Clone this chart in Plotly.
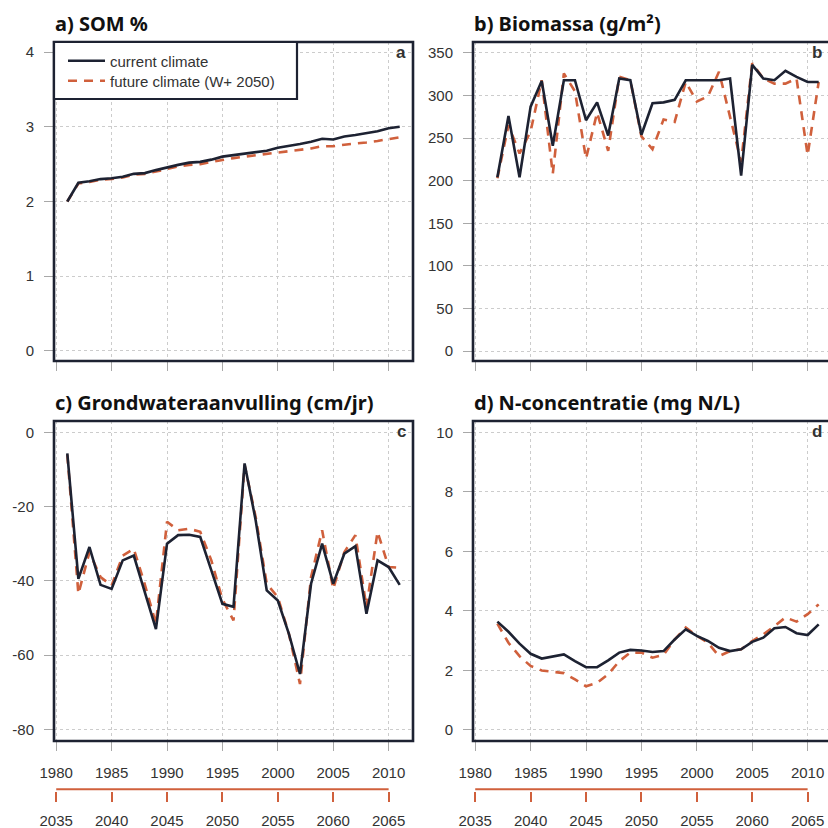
import plotly.graph_objects as go

# ---------------- data ----------------
years_ac = list(range(1981, 2012))
years_bd = list(range(1982, 2012))

som_current = [2.00, 2.25, 2.27, 2.30, 2.31, 2.33, 2.37, 2.38, 2.42, 2.46, 2.49, 2.52, 2.53, 2.56, 2.60, 2.62,
               2.64, 2.66, 2.68, 2.72, 2.75, 2.77, 2.80, 2.84, 2.83, 2.87, 2.89, 2.91, 2.94, 2.98, 3.00]
som_future = [2.00, 2.24, 2.26, 2.29, 2.30, 2.32, 2.36, 2.37, 2.40, 2.44, 2.47, 2.49, 2.50, 2.53, 2.56, 2.58,
              2.60, 2.62, 2.63, 2.65, 2.67, 2.69, 2.71, 2.74, 2.74, 2.76, 2.78, 2.79, 2.81, 2.84, 2.86]

bio_current = [204, 276, 204, 287, 317, 241, 318, 318, 271, 292, 253, 320, 318, 254, 291, 292, 295, 318, 318,
               318, 318, 320, 206, 336, 320, 318, 329, 322, 316, 316]
bio_future = [203, 265, 232, 258, 318, 208, 326, 305, 226, 280, 235, 322, 318, 252, 237, 272, 269, 316, 293,
              299, 328, 275, 222, 338, 320, 314, 314, 320, 230, 316]

gw_current = [-5.7, -39.5, -30.9, -41.1, -42.2, -34.5, -33.2, -43.0, -53.0, -30.0, -27.7, -27.6, -28.2, -37.2,
              -46.2, -47.0, -8.4, -23.7, -42.6, -45.3, -54.3, -65.1, -40.8, -30.0, -40.8, -32.7, -30.7, -48.9,
              -34.5, -36.3, -41.1]
gw_future = [-6.0, -43.5, -32.3, -39.0, -41.3, -33.2, -31.4, -41.0, -51.6, -24.1, -26.4, -26.0, -26.8, -34.5,
             -45.0, -50.7, -8.8, -22.8, -40.8, -44.4, -54.3, -67.8, -39.0, -26.4, -42.2, -32.3, -27.7, -47.1,
             -26.8, -36.3, -36.5]

n_current = [3.64, 3.30, 2.90, 2.56, 2.40, 2.47, 2.54, 2.31, 2.11, 2.11, 2.34, 2.60, 2.69, 2.67, 2.62, 2.65,
             3.04, 3.38, 3.16, 2.99, 2.76, 2.65, 2.71, 2.96, 3.10, 3.42, 3.46, 3.25, 3.19, 3.55]
n_future = [3.57, 2.93, 2.48, 2.15, 2.00, 1.96, 1.91, 1.70, 1.47, 1.58, 1.87, 2.31, 2.60, 2.60, 2.43, 2.52,
            3.04, 3.44, 3.16, 2.93, 2.48, 2.65, 2.71, 2.99, 3.21, 3.49, 3.78, 3.64, 3.89, 4.22]

x_tick_years = [1980, 1985, 1990, 1995, 2000, 2005, 2010]
future_tick_labels = ["2035", "2040", "2045", "2050", "2055", "2060", "2065"]
axis_line_years = [1980, 2010]

ytick_a = [0, 1, 2, 3, 4]
ytick_b = [0, 50, 100, 150, 200, 250, 300, 350]
ytick_c = [-80, -60, -40, -20, 0]
ytick_c_labels = ["-80", "-60", "-40", "-20", "0"]
ytick_d = [0, 2, 4, 6, 8, 10]

titles = ["a) SOM %", "b) Biomassa (g/m²)", "c) Grondwateraanvulling (cm/jr)", "d) N-concentratie (mg N/L)"]
panel_letters = ["a", "b", "c", "d"]
legend_names = ["current climate", "future climate (W+ 2050)"]

# ---------------- styling ----------------
S = 828.0
BLACK = "#1d2232"
RED = "#d0603c"
GRID = "#cccccc"
TXT = "#333333"
TICKF = dict(family="Liberation Sans, Arial, sans-serif", size=15, color=TXT)


def px(p):
    return p / S


def py(p):
    return 1 - p / S


# pixel boxes: (left, right, top, bottom)
boxes = {
    1: (54, 413, 42, 361),
    2: (473, 828, 42, 361),
    3: (54, 413, 421, 741),
    4: (473, 828, 421, 741),
}
xr_full = [1979.8, 2012.2]
xr_cut = [1979.8, 1979.8 + 355 / (359 / 32.4)]
yranges = {1: [-0.134, 4.134], 2: [-11.7, 362.9], 3: [-83.15, 3.04], 4: [-0.37, 10.38]}
ytickvals = {1: ytick_a, 2: ytick_b, 3: ytick_c, 4: ytick_d}
yticktext = {1: [str(v) for v in ytick_a], 2: [str(v) for v in ytick_b], 3: ytick_c_labels,
             4: [str(v) for v in ytick_d]}

fig = go.Figure()

series = {
    1: (years_ac, som_current, som_future),
    2: (years_bd, bio_current, bio_future),
    3: (years_ac, gw_current, gw_future),
    4: (years_bd, n_current, n_future),
}

for i in range(1, 5):
    yrs, cur, fut = series[i]
    sfx = "" if i == 1 else str(i)
    fig.add_trace(go.Scatter(x=yrs, y=fut, mode="lines", name=legend_names[1],
                             line=dict(color=RED, width=2.6, dash="9px,7px"),
                             xaxis="x" + sfx, yaxis="y" + sfx, showlegend=(i == 1), legend="legend2"))
    fig.add_trace(go.Scatter(x=yrs, y=cur, mode="lines", name=legend_names[0],
                             line=dict(color=BLACK, width=2.6),
                             xaxis="x" + sfx, yaxis="y" + sfx, showlegend=(i == 1), legend="legend"))

layout = {}
for i in range(1, 5):
    l, r, t, b = boxes[i]
    sfx = "" if i == 1 else str(i)
    layout["xaxis" + sfx] = dict(
        domain=[px(l), px(r)], range=xr_full if i in (1, 3) else xr_cut,
        anchor="y" + sfx, tickvals=x_tick_years, showticklabels=(i >= 3),
        ticks="outside", ticklen=9, tickcolor="#a8a8a8", tickwidth=1,
        showgrid=True, gridcolor=GRID, griddash="dot", gridwidth=1.4,
        zeroline=False, showline=False, tickfont=TICKF, ticklabelstandoff=9, automargin=False,
    )
    layout["yaxis" + sfx] = dict(
        domain=[py(b), py(t)], range=yranges[i], anchor="x" + sfx,
        tickvals=ytickvals[i], ticktext=yticktext[i], ticks="outside", ticklen=9,
        tickcolor="#a8a8a8", tickwidth=1,
        showgrid=True, gridcolor=GRID, griddash="dot", gridwidth=1.4,
        zeroline=False, showline=False, tickfont=TICKF, ticklabelstandoff=7, automargin=False,
    )

# secondary (future years) axes under panels c and d
for j, base in ((5, 3), (6, 4)):
    l, r, t, b = boxes[base]
    layout["xaxis%d" % j] = dict(
        domain=[px(l), px(r)], range=xr_full if base == 3 else xr_cut, anchor="y%d" % j,
        tickvals=x_tick_years, ticktext=future_tick_labels, ticks="outside", ticklen=10,
        tickcolor=RED, tickwidth=2, showgrid=False, zeroline=False, showline=False,
        tickfont=TICKF, ticklabelstandoff=6, automargin=False,
    )
    layout["yaxis%d" % j] = dict(
        domain=[py(791), py(781)], range=[-0.2, 1], anchor="x%d" % j, visible=False, automargin=False,
    )
    fig.add_trace(go.Scatter(x=axis_line_years, y=[0, 0], mode="lines",
                             line=dict(color=RED, width=2), xaxis="x%d" % j, yaxis="y%d" % j,
                             showlegend=False, hoverinfo="skip"))

shapes = []
for i in range(1, 5):
    l, r, t, b = boxes[i]
    rr = r + 6 if i in (2, 4) else r
    shapes.append(dict(type="rect", xref="paper", yref="paper", x0=px(l), x1=px(rr), y0=py(b), y1=py(t),
                       line=dict(color=BLACK, width=2.6), fillcolor="rgba(0,0,0,0)", layer="above"))
# legend frame
shapes.append(dict(type="rect", xref="paper", yref="paper", x0=px(54), x1=px(297), y0=py(99), y1=py(42),
                   line=dict(color=BLACK, width=2.2), fillcolor="white", layer="above"))

annotations = []
title_pos = {1: (53, 23), 2: (472, 23), 3: (53, 403), 4: (472, 403)}
for i in range(1, 5):
    x, y = title_pos[i]
    annotations.append(dict(text=titles[i - 1], xref="paper", yref="paper", x=px(x), y=py(y),
                            xanchor="left", yanchor="middle", showarrow=False,
                            font=dict(family="Noto Sans", size=20, color="#111111", weight="bold")))
letter_pos = {1: (408, 52), 2: (824, 52), 3: (408, 431), 4: (824, 431)}
for i in range(1, 5):
    x, y = letter_pos[i]
    annotations.append(dict(text=panel_letters[i - 1], xref="paper", yref="paper", x=px(x), y=py(y),
                            xanchor="right", yanchor="middle", showarrow=False,
                            font=dict(family="Liberation Sans", size=17, color=TXT, weight="bold")))

LEGF = dict(family="Liberation Sans", size=15, color=TXT)
fig.update_layout(
    width=828, height=828, margin=dict(l=0, r=0, t=0, b=0, autoexpand=False),
    paper_bgcolor="white", plot_bgcolor="white",
    shapes=shapes, annotations=annotations,
    legend=dict(x=px(63), y=py(61), xanchor="left", yanchor="middle", bgcolor="rgba(0,0,0,0)",
                borderwidth=0, font=LEGF, itemwidth=37),
    legend2=dict(x=px(63), y=py(81), xanchor="left", yanchor="middle", bgcolor="rgba(0,0,0,0)",
                 borderwidth=0, font=LEGF, itemwidth=37),
    showlegend=True,
    **layout,
)

fig.write_html(
    "out.html",
    config={"displayModeBar": False},
    post_script="document.body.style.margin='0';document.body.style.overflow='hidden';"
                "Plotly.Plots.resize(document.getElementById('{plot_id}'));",
)
